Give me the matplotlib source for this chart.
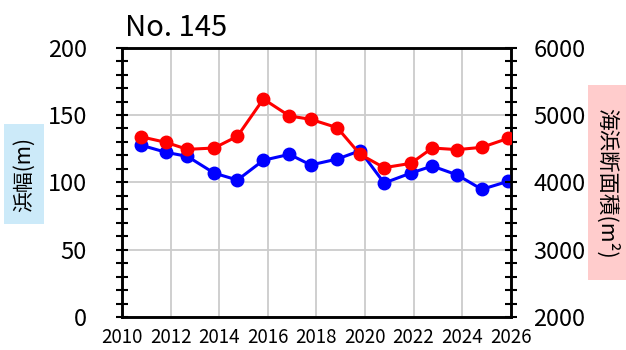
import matplotlib
matplotlib.use("Agg")
import matplotlib.pyplot as plt
from matplotlib.patches import Rectangle
from matplotlib.ticker import MultipleLocator

plt.rcParams['font.family'] = ['Noto Sans CJK JP', 'DejaVu Sans']

# Survey dates (decimal year)
years = [2010.77, 2011.81, 2012.69, 2013.79, 2014.75, 2015.82, 2016.89, 2017.77,
         2018.86, 2019.80, 2020.79, 2021.89, 2022.77, 2023.80, 2024.81, 2025.90]
# Beach width (m)
beach_width = [127.7, 122.3, 119.3, 106.9, 101.7, 116.4, 120.8, 112.9,
               117.3, 123.5, 99.5, 106.9, 112.1, 105.5, 94.8, 100.8]
# Beach cross-sectional area (m^2)
section_area = [4678, 4594, 4490, 4510, 4684, 5238, 4986, 4936,
                4812, 4416, 4218, 4282, 4510, 4486, 4520, 4654]

title = "No. 145"
left_label = "浜幅(m)"
right_label = "海浜断面積(m²)"

W, H = 626, 350
fig = plt.figure(figsize=(W / 100, H / 100), dpi=100)
ax = fig.add_axes([122 / W, 1 - 317 / H, (510.7 - 122) / W, (317 - 47.7) / H])
ax2 = ax.twinx()

ax.set_xlim(2010, 2026)
ax.set_ylim(0, 200)
ax2.set_ylim(2000, 6000)

ax.xaxis.set_major_locator(MultipleLocator(2))
ax.yaxis.set_major_locator(MultipleLocator(50))
ax.yaxis.set_minor_locator(MultipleLocator(10))
ax2.yaxis.set_major_locator(MultipleLocator(1000))
ax2.yaxis.set_minor_locator(MultipleLocator(200))

ax.grid(True, which='major', axis='both', color='#cccccc', linewidth=1.3)
ax.set_axisbelow(True)

for a in (ax, ax2):
    for s in a.spines.values():
        s.set_linewidth(1.8)
        s.set_color('black')

ax.tick_params(axis='x', length=0, labelsize=13.5, pad=7)
ax.tick_params(axis='y', which='both', direction='inout', length=8.5, width=1.5,
               labelsize=17, pad=21)
ax2.tick_params(axis='y', which='both', direction='inout', length=8.5, width=1.5,
                labelsize=17, pad=12)

# Beach width on the left axis, cross-sectional area on the right (drawn on top)
ax.plot(years, beach_width, color='#0000ff', linewidth=2.2, marker='o',
        markersize=9, zorder=3)
ax2.plot(years, section_area, color='#ff0000', linewidth=2.2, marker='o',
         markersize=9, zorder=3)

fig.text(125 / W, 1 - 36.5 / H, title, fontsize=21, ha='left', va='baseline')

# Axis title boxes
fig.patches.append(Rectangle((4 / W, 1 - 224 / H), 40 / W, 100 / H,
                             transform=fig.transFigure, facecolor='#cceaf9',
                             edgecolor='none', zorder=0))
fig.text(24 / W, 1 - 174 / H, left_label, rotation=90, fontsize=15,
         ha='center', va='center')

fig.patches.append(Rectangle((588 / W, 1 - 280 / H), 38 / W, 195 / H,
                             transform=fig.transFigure, facecolor='#ffcccc',
                             edgecolor='none', zorder=0))
fig.text(607 / W, 1 - 183 / H, right_label, rotation=-90, fontsize=15.5,
         ha='center', va='center')

fig.savefig("out.png", dpi=100)
